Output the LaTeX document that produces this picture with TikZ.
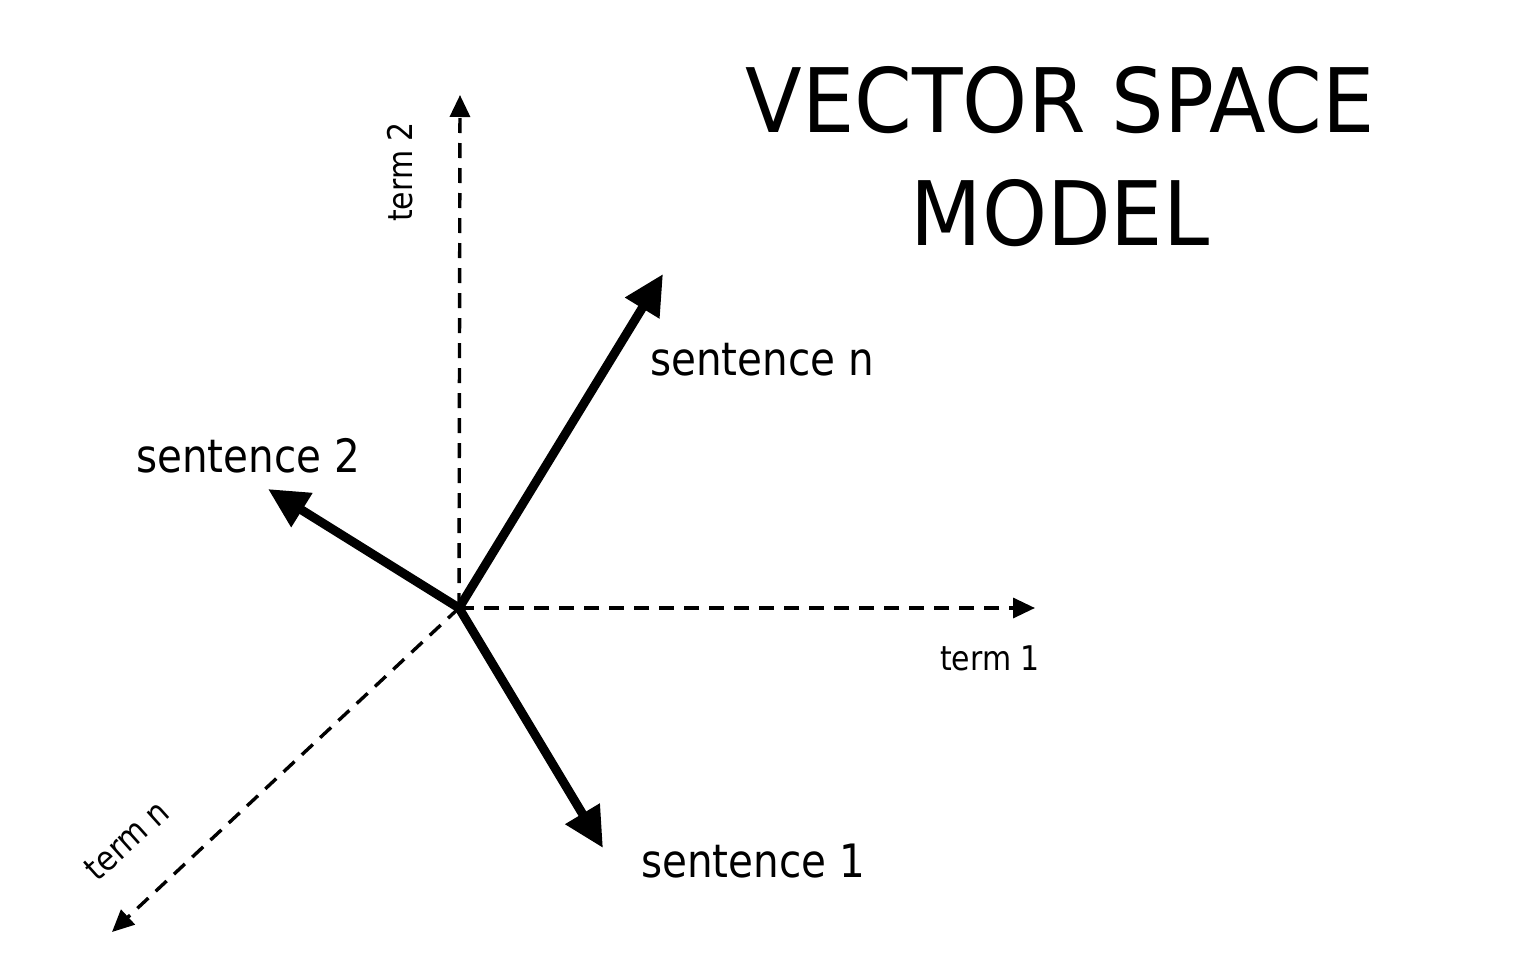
\documentclass[tikz,border=0pt]{standalone}
\usepackage{fontspec}
\setmainfont[FakeStretch=0.88]{DejaVu Sans}
\newfontfamily\ttlfont[FakeStretch=0.93]{DejaVu Sans}
\usetikzlibrary{arrows.meta}
\tikzset{
  axis/.style={line width=3.4pt, dash pattern=on 15pt off 10pt, -{Triangle[length=22pt,width=20pt]}},
  vec/.style={line width=9pt, -{Triangle[length=40pt,width=38pt]}},
  lab/.style={font=\fontsize{46}{50}\selectfont, inner sep=0pt},
  small/.style={font=\fontsize{34}{38}\selectfont, inner sep=0pt},
  ttl/.style={font=\ttlfont\fontsize{89}{113}\selectfont, inner sep=0pt, align=center}
}
\begin{document}
\begin{tikzpicture}[x=1pt,y=-1pt]
\useasboundingbox (0,0) rectangle (1540,974);
\coordinate (O) at (459,608);
\coordinate (t2) at (460,95);
\coordinate (t1) at (1035,608);
\coordinate (tn) at (112,932);
\coordinate (sn) at (663,274);
\coordinate (s2) at (268,489);
\coordinate (s1) at (603,848);
\draw[axis] (O) -- (t2);
\draw[axis] (O) -- (t1);
\draw[axis] (O) -- (tn);
\draw[vec] (O) -- (sn);
\draw[vec] (O) -- (s2);
\draw[vec] (O) -- (s1);
\node[small, rotate=90] (lt2) at (400,172) {term 2};
\node[small] (lt1) at (990,658) {term 1};
\node[small, rotate=42] (ltn) at (127,840) {term n};
\node[lab] (lsn) at (762,360) {sentence n};
\node[lab] (ls2) at (248,456) {sentence 2};
\node[lab] (ls1) at (753,861) {sentence 1};
\node[ttl] (title) at (1060,157) {VECTOR SPACE\\MODEL};
\end{tikzpicture}
\end{document}
